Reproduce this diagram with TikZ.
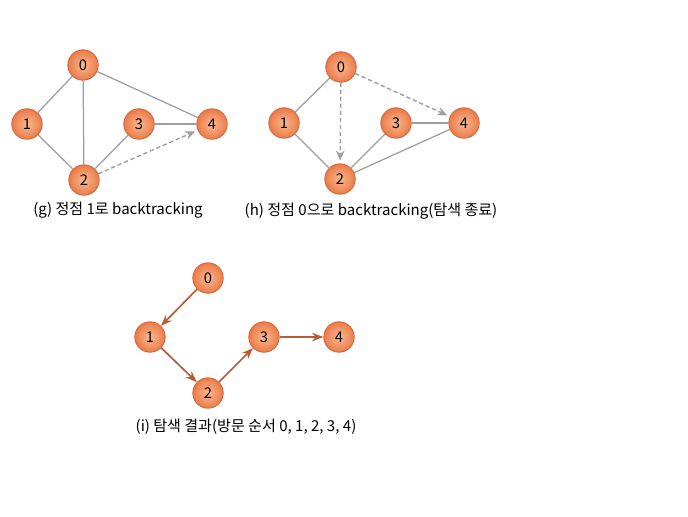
\documentclass[tikz,border=0pt]{standalone}
\usepackage{fontspec}
\setmainfont{Noto Sans CJK KR}
\usepackage{tikz}
\usetikzlibrary{arrows.meta}
\definecolor{ballorange}{RGB}{236,122,72}
\definecolor{balllight}{RGB}{250,185,145}
\definecolor{balledge}{RGB}{208,100,58}
\definecolor{edgegray}{RGB}{158,158,158}
\definecolor{pathbrown}{RGB}{184,92,52}

\tikzset{
  vtx/.style={circle, draw=balledge, line width=0.6pt, inner sep=0pt, minimum size=0.76cm,
    shading=radial, inner color=balllight, outer color=ballorange,
    font=\fontsize{10.5}{12}\selectfont},
  edge/.style={edgegray, line width=0.9pt},
  back/.style={edgegray, line width=1pt, dashed, dash pattern=on 3pt off 2pt, -{Stealth[length=7pt,width=6pt]}, shorten >=2pt},
  visit/.style={pathbrown, line width=1.2pt, -{Stealth[length=8pt,width=6pt]}},
  caption/.style={font=\fontsize{10.7}{12}\selectfont}
}

\begin{document}
\begin{tikzpicture}[x=0.025cm, y=-0.025cm]
  \useasboundingbox (0,0) rectangle (688,516);

  % Graph (g)
  \foreach \n/\x/\y in {0/83/65, 1/27/124, 2/84/180, 3/139/124, 4/212/124} {
    \node[vtx] (g\n) at (\x,\y) {\n};
  }
  \foreach \a/\b in {0/1, 0/2, 0/4, 1/2, 2/3, 3/4} {
    \draw[edge] (g\a) -- (g\b);
  }
  \draw[back] (g2) -- (g4);
  \node[caption] (gcap) at (118,210) {(g) 정점 1로 backtracking};

  % Graph (h)
  \foreach \n/\x/\y in {0/341/67, 1/284/123, 2/340/179, 3/396/123, 4/464/123} {
    \node[vtx] (h\n) at (\x,\y) {\n};
  }
  \foreach \a/\b in {0/1, 1/2, 2/3, 3/4, 2/4} {
    \draw[edge] (h\a) -- (h\b);
  }
  \draw[back] (h0) -- (h2);
  \draw[back] (h0) -- (h4);
  \node[caption] (hcap) at (371,211) {(h) 정점 0으로 backtracking(탐색 종료)};

  % Graph (i): visiting order
  \foreach \n/\x/\y in {0/208/278, 1/150/337, 2/208/393, 3/264/337, 4/339/337} {
    \node[vtx] (i\n) at (\x,\y) {\n};
  }
  \foreach \a/\b in {0/1, 1/2, 2/3, 3/4} {
    \draw[visit] (i\a) -- (i\b);
  }
  \node[caption] (icap) at (246,427) {(i) 탐색 결과(방문 순서 0, 1, 2, 3, 4)};
\end{tikzpicture}
\end{document}
